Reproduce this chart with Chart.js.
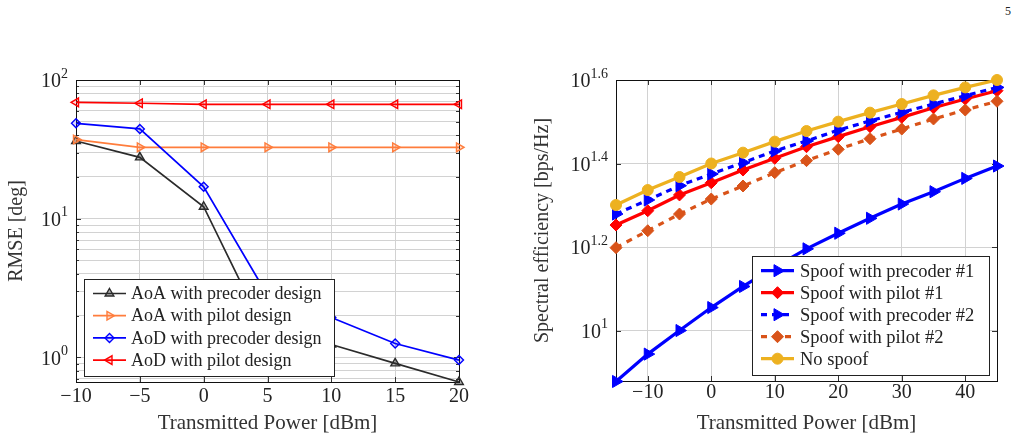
<!DOCTYPE html>
<html>
<head>
<meta charset="utf-8">
<script src="https://cdn.jsdelivr.net/npm/chart.js@4.4.1/dist/chart.umd.min.js"></script>
<style>
  body { margin: 0; background: #fff; width: 1021px; height: 444px; overflow: hidden; position: relative; font-family: 'Liberation Serif', serif; }
  canvas { position: absolute; top: 50px; }
  #left { left: 0; }
  #right { left: 500px; }
  #page { position: absolute; left: 1005px; top: 4px; font-size: 12px; color: #222; }
</style>
</head>
<body>
<div id="page">5</div>
<canvas id="left" width="500" height="394"></canvas>
<canvas id="right" width="521" height="394"></canvas>
<script>
// left plot: RMSE vs transmitted power
const leftPower = [-10, -5, 0, 5, 10, 15, 20];
const aoaPrecoder = [36.3, 27.7, 12.2, 1.40, 1.24, 0.906, 0.665];
const aoaPilot = [37.2, 32.7, 32.7, 32.7, 32.7, 32.7, 32.7];
const aodPrecoder = [48.7, 44.4, 17.0, 2.81, 1.94, 1.26, 0.957];
const aodPilot = [69.0, 68.0, 66.8, 66.8, 66.8, 66.8, 66.8];
const leftNames = ['AoA with precoder design', 'AoA with pilot design', 'AoD with precoder design', 'AoD with pilot design'];
const leftXTicks = [-10, -5, 0, 5, 10, 15, 20];
const leftYMajor = [1, 10, 100];
const leftYMajorExp = ['0', '1', '2'];
const leftYMinor = [0.7, 0.8, 0.9, 2, 3, 4, 5, 6, 7, 8, 9, 20, 30, 40, 50, 60, 70, 80, 90];

// right plot: spectral efficiency vs transmitted power
const rightPower = [-15, -10, -5, 0, 5, 10, 15, 20, 25, 30, 35, 40, 45];
const spoofPrecoder1 = [7.55, 8.78, 10.0, 11.35, 12.75, 14.19, 15.69, 17.10, 18.57, 20.09, 21.50, 23.14, 24.77];
const spoofPilot1 = [17.89, 19.36, 21.12, 22.59, 24.23, 25.85, 27.56, 29.13, 30.78, 32.40, 34.17, 35.85, 37.53];
const spoofPrecoder2 = [19.01, 20.54, 22.23, 23.71, 25.23, 26.92, 28.44, 30.20, 31.77, 33.31, 34.87, 36.51, 38.22];
const spoofPilot2 = [15.79, 17.34, 19.01, 20.65, 22.19, 23.88, 25.52, 27.16, 28.80, 30.38, 32.11, 33.74, 35.40];
const noSpoof = [19.98, 21.70, 23.32, 25.12, 26.67, 28.34, 30.05, 31.64, 33.25, 34.87, 36.58, 38.22, 39.81];
const rightNames = ['Spoof with precoder #1', 'Spoof with pilot #1', 'Spoof with precoder #2', 'Spoof with pilot #2', 'No spoof'];
const rightXTicks = [-10, 0, 10, 20, 30, 40];
const rightYMajor = [10, 15.849, 25.119, 39.811];
const rightYMajorExp = ['1', '1.2', '1.4', '1.6'];

Chart.defaults.font.family = "'Liberation Serif', serif";
Chart.defaults.color = '#222';
Chart.defaults.animation = false;

const pts = (xs, ys) => xs.map((x, i) => ({ x: x, y: ys[i] }));
const minus = v => v < 0 ? '\u2212' + Math.abs(v) : String(v);

function drawMarker(ctx, ds, x, y) {
    const r = ds.pointRadius;
    const rot = (ds.pointRotation || 0) * Math.PI / 180;
    ctx.save();
    ctx.setLineDash([]);
    ctx.fillStyle = ds.pointBackgroundColor;
    ctx.strokeStyle = ds.pointBorderColor;
    ctx.lineWidth = ds.pointBorderWidth;
    ctx.beginPath();
    if (ds.pointStyle === 'circle') {
        ctx.arc(x, y, r, 0, 2 * Math.PI);
    } else {
        const n = ds.pointStyle === 'triangle' ? 3 : 4;
        for (let k = 0; k < n; k++) {
            const a = rot + k * 2 * Math.PI / n;
            const px = x + Math.sin(a) * r, py = y - Math.cos(a) * r;
            if (k) ctx.lineTo(px, py); else ctx.moveTo(px, py);
        }
        ctx.closePath();
    }
    ctx.fill();
    ctx.stroke();
    ctx.restore();
}

// frame, inward tick marks and 10^x labels (pgfplots look)
const framePlugin = {
    id: 'frame',
    beforeDatasetsDraw(chart, args, o) {
        const { ctx, chartArea: a, scales } = chart;
        ctx.save();
        ctx.strokeStyle = '#333';
        ctx.lineWidth = 1;
        const seg = (x1, y1, x2, y2) => { ctx.beginPath(); ctx.moveTo(x1, y1); ctx.lineTo(x2, y2); ctx.stroke(); };
        o.xTicks.forEach(v => {
            const px = Math.round(scales.x.getPixelForValue(v)) + 0.5;
            seg(px, a.bottom, px, a.bottom - 5);
            seg(px, a.top, px, a.top + 5);
        });
        o.yMajor.forEach(v => {
            const py = Math.round(scales.y.getPixelForValue(v)) + 0.5;
            seg(a.left, py, a.left + 5, py);
            seg(a.right, py, a.right - 5, py);
        });
        (o.yMinor || []).forEach(v => {
            const py = Math.round(scales.y.getPixelForValue(v)) + 0.5;
            seg(a.left, py, a.left + 3, py);
            seg(a.right, py, a.right - 3, py);
        });
        ctx.strokeStyle = '#111';
        ctx.strokeRect(Math.round(a.left) + 0.5, Math.round(a.top) + 0.5, Math.round(a.right - a.left), Math.round(a.bottom - a.top));
        ctx.restore();
    },
    afterDraw(chart, args, o) {
        const { ctx, chartArea: a, scales } = chart;
        ctx.save();
        ctx.fillStyle = '#222';
        ctx.textBaseline = 'middle';
        ctx.textAlign = 'right';
        o.yMajor.forEach((v, i) => {
            const py = scales.y.getPixelForValue(v);
            const right = a.left - 8;
            ctx.font = "14px 'Liberation Serif'";
            const ew = ctx.measureText(o.yExp[i]).width;
            ctx.fillText(o.yExp[i], right, py - 6);
            ctx.font = "20px 'Liberation Serif'";
            ctx.fillText('10', right - ew, py + 2);
        });
        ctx.restore();
    }
};

const legendPlugin = {
    id: 'boxLegend',
    afterDraw(chart, args, o) {
        const ctx = chart.ctx;
        ctx.save();
        ctx.fillStyle = '#fff';
        ctx.fillRect(o.left, o.top, o.width, o.height);
        ctx.strokeStyle = '#222';
        ctx.lineWidth = 1;
        ctx.strokeRect(o.left + 0.5, o.top + 0.5, o.width, o.height);
        chart.data.datasets.forEach((ds, i) => {
            const y = o.firstRow + i * o.rowGap;
            ctx.strokeStyle = ds.borderColor;
            ctx.lineWidth = ds.borderWidth;
            ctx.setLineDash(ds.borderDash || []);
            ctx.beginPath();
            ctx.moveTo(o.lineFrom, y);
            ctx.lineTo(o.lineTo, y);
            ctx.stroke();
            ctx.setLineDash([]);
            drawMarker(ctx, ds, (o.lineFrom + o.lineTo) / 2, y);
            ctx.fillStyle = '#222';
            ctx.font = o.font;
            ctx.textAlign = 'left';
            ctx.textBaseline = 'middle';
            ctx.fillText(ds.label, o.textX, y + 1);
        });
        ctx.restore();
    }
};

const gridColor = '#d2d2d2';

const makeSet = (label, xs, ys, color, fill, style, rot, r, width, dash) => ({
    label: label,
    data: pts(xs, ys),
    borderColor: color,
    borderWidth: width,
    borderDash: dash || [],
    pointStyle: style,
    pointRotation: rot,
    pointRadius: r,
    pointBackgroundColor: fill,
    pointBorderColor: color,
    pointBorderWidth: width > 2 ? 1 : 1.4,
    fill: false,
    tension: 0,
    clip: false
});

const leftSets = [
    makeSet(leftNames[0], leftPower, aoaPrecoder, '#2b2b2b', 'rgba(43,43,43,0.35)', 'triangle', 0, 5, 1.7),
    makeSet(leftNames[1], leftPower, aoaPilot, '#ff7d3c', 'rgba(255,125,60,0.25)', 'triangle', 90, 5, 1.7),
    makeSet(leftNames[2], leftPower, aodPrecoder, '#0000ff', 'rgba(0,0,255,0.15)', 'rectRot', 0, 4.5, 1.7),
    makeSet(leftNames[3], leftPower, aodPilot, '#ff0000', 'rgba(255,0,0,0.15)', 'triangle', -90, 5, 1.7)
];
leftSets.forEach((d, i) => { d.order = leftSets.length - i; });

new Chart(document.getElementById('left'), {
    type: 'line',
    data: { datasets: leftSets },
    options: {
        responsive: false,
        layout: { padding: { top: 30, right: 41, left: 0, bottom: 0 } },
        plugins: {
            legend: { display: false },
            tooltip: { enabled: false },
            frame: { xTicks: leftXTicks, yMajor: leftYMajor, yExp: leftYMajorExp, yMinor: leftYMinor },
            boxLegend: {
                left: 84, top: 229, width: 250, height: 97,
                firstRow: 243.5, rowGap: 22.2,
                lineFrom: 93, lineTo: 126, textX: 131,
                font: "18px 'Liberation Serif'"
            }
        },
        scales: {
            x: {
                type: 'linear', min: -10, max: 20,
                afterBuildTicks: s => { s.ticks = leftXTicks.map(v => ({ value: v })); },
                afterFit: s => { s.height = 62; },
                ticks: { callback: minus, font: { size: 20 }, padding: 3, maxRotation: 0, color: '#222' },
                grid: { color: gridColor, drawTicks: false },
                border: { display: false },
                title: { display: true, text: 'Transmitted Power [dBm]', font: { size: 21 }, padding: { top: 0, bottom: 8 }, color: '#333' }
            },
            y: {
                type: 'logarithmic', min: 0.665, max: 100,
                afterBuildTicks: s => { s.ticks = leftYMinor.concat(leftYMajor).sort((p, q) => p - q).map(v => ({ value: v })); },
                afterFit: s => { s.width = 76; },
                ticks: { display: false },
                grid: { color: gridColor, drawTicks: false },
                border: { display: false },
                title: { display: true, text: 'RMSE [deg]', font: { size: 20 }, padding: { top: 5, bottom: 0 }, color: '#333' }
            }
        }
    },
    plugins: [framePlugin, legendPlugin]
});

const rightSets = [
    makeSet(rightNames[0], rightPower, spoofPrecoder1, '#0000ff', '#0000ff', 'triangle', 90, 7, 3.2),
    makeSet(rightNames[1], rightPower, spoofPilot1, '#ff0000', '#ff0000', 'rectRot', 0, 6, 3.2),
    makeSet(rightNames[2], rightPower, spoofPrecoder2, '#0000ff', '#0000ff', 'triangle', 90, 7, 3.2, [6, 5]),
    makeSet(rightNames[3], rightPower, spoofPilot2, '#d95319', '#d95319', 'rectRot', 0, 6, 3.2, [6, 6]),
    makeSet(rightNames[4], rightPower, noSpoof, '#edb120', '#edb120', 'circle', 0, 5.5, 3.2)
];
rightSets.forEach((d, i) => { d.order = rightSets.length - i; });

new Chart(document.getElementById('right'), {
    type: 'line',
    data: { datasets: rightSets },
    options: {
        responsive: false,
        layout: { padding: { top: 30, right: 24, left: 0, bottom: 0 } },
        plugins: {
            legend: { display: false },
            tooltip: { enabled: false },
            frame: { xTicks: rightXTicks, yMajor: rightYMajor, yExp: rightYMajorExp },
            boxLegend: {
                left: 252, top: 206, width: 237, height: 119,
                firstRow: 220.7, rowGap: 22,
                lineFrom: 261, lineTo: 294, textX: 300,
                font: "18.5px 'Liberation Serif'"
            }
        },
        scales: {
            x: {
                type: 'linear', min: -15, max: 45,
                afterBuildTicks: s => { s.ticks = rightXTicks.map(v => ({ value: v })); },
                afterFit: s => { s.height = 63; },
                ticks: { callback: minus, font: { size: 20 }, padding: 0, maxRotation: 0, color: '#222' },
                grid: { color: gridColor, drawTicks: false },
                border: { display: false },
                title: { display: true, text: 'Transmitted Power [dBm]', font: { size: 21 }, padding: { top: 0, bottom: 8 }, color: '#333' }
            },
            y: {
                type: 'logarithmic', min: 7.57, max: 39.811,
                afterBuildTicks: s => { s.ticks = rightYMajor.map(v => ({ value: v })); },
                afterFit: s => { s.width = 116; },
                ticks: { display: false },
                grid: { color: gridColor, drawTicks: false },
                border: { display: false },
                title: { display: true, text: 'Spectral efficiency [bps/Hz]', font: { size: 20 }, padding: { top: 31, bottom: 0 }, color: '#333' }
            }
        }
    },
    plugins: [framePlugin, legendPlugin]
});
</script>
</body>
</html>
